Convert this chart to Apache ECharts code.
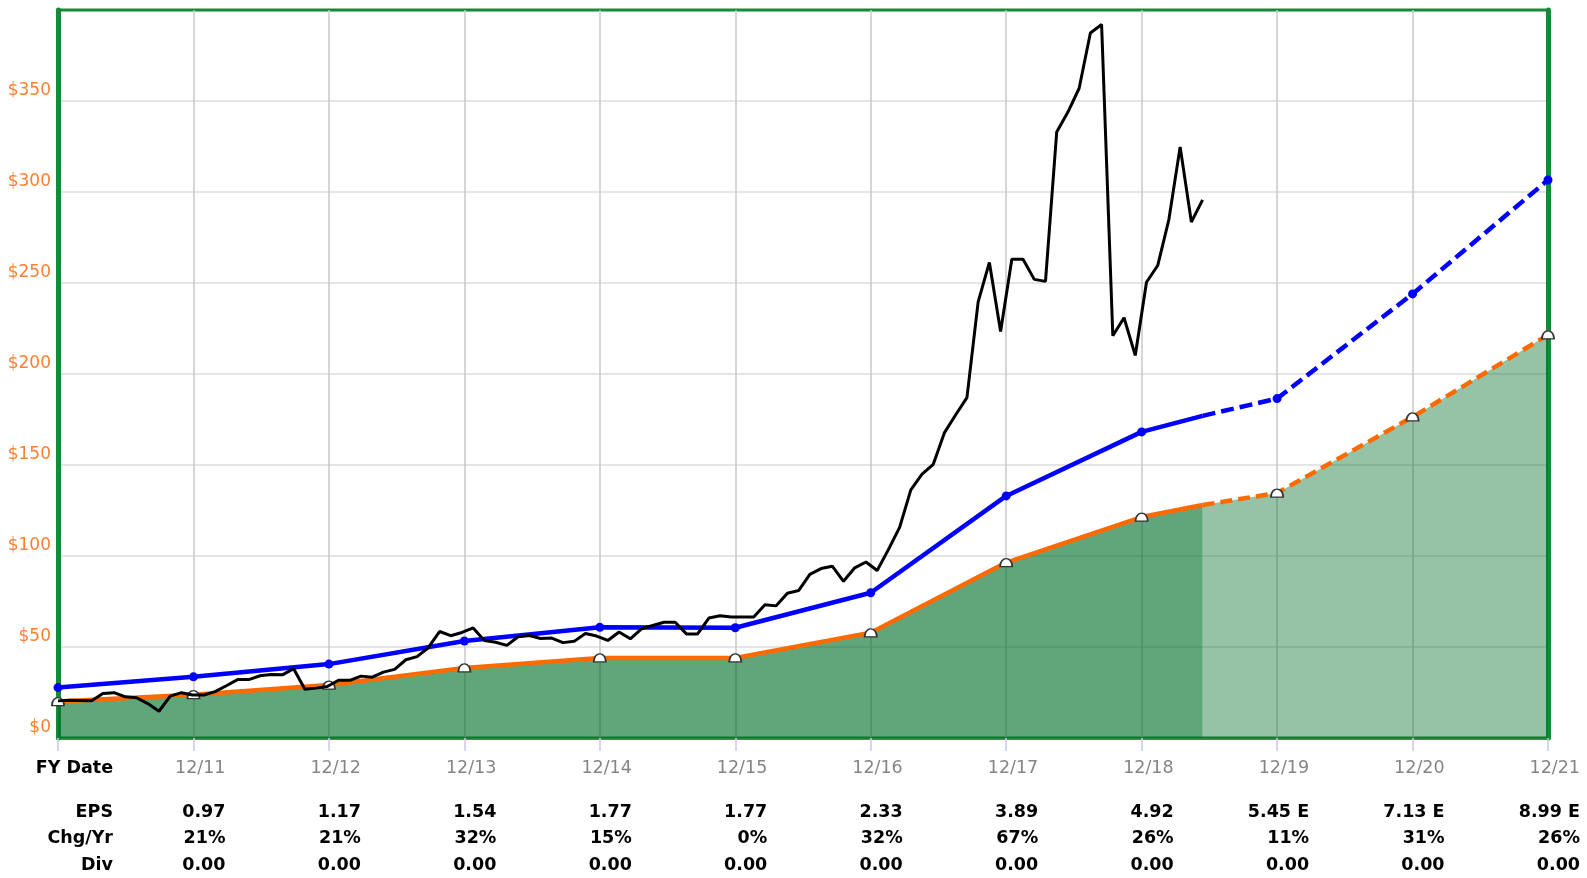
<!DOCTYPE html>
<html><head><meta charset="utf-8">
<script src="https://cdn.jsdelivr.net/npm/echarts@6/dist/echarts.min.js"></script>
<style>html,body{margin:0;padding:0;background:#fff}#c{width:1587px;height:878px}</style>
</head><body><div id="c"></div>
<script>
// ---- data ----
const fyLabels = ['12/10','12/11','12/12','12/13','12/14','12/15','12/16','12/17','12/18','12/19','12/20','12/21'];
const epsRow   = ['', '0.97','1.17','1.54','1.77','1.77','2.33','3.89','4.92','5.45 E','7.13 E','8.99 E'];
const chgRow   = ['', '21%','21%','32%','15%','0%','32%','67%','26%','11%','31%','26%'];
const divRow   = ['', '0.00','0.00','0.00','0.00','0.00','0.00','0.00','0.00','0.00','0.00','0.00'];
const rowTitles = ['FY Date','EPS','Chg/Yr','Div'];
const yTickValues = [0,50,100,150,200,250,300,350];

// orange earnings-value line, one value per FY (12/10 .. 12/21)
const earningsLine = [20.0, 23.8, 29.1, 38.5, 44.0, 44.0, 57.8, 96.4, 121.4, 134.6, 176.4, 221.5];
// blue normal-value line
const normalLine   = [27.7, 33.6, 40.6, 53.3, 60.8, 60.6, 79.8, 133.0, 168.2, 186.5, 244.0, 306.6];
const lastActualFY = 8;          // index of 12/18, last reported year
const asOfYear = 8.45;           // price date (years after 12/10)
const earningsAsOf = 128;
const normalAsOf = 177;
// monthly price from 12/10 to as-of date
const price = [
 20.4, 20.8, 20.6, 20.4, 24.5, 24.9, 22.6, 22.1, 18.9, 14.7,
 23.0, 24.9, 23.6, 23.6, 25.5, 28.7, 32.1, 32.1, 34.2, 34.9,
 34.7, 38.1, 26.8, 27.4, 28.3, 31.7, 31.7, 34.0, 33.4, 36.2,
 37.7, 43.0, 44.7, 49.6, 58.5, 56.2, 58.0, 60.5, 53.5, 52.6,
 50.9, 55.6, 56.3, 54.7, 54.9, 52.4, 53.1, 57.4, 56.0, 53.6,
 58.2, 54.5, 60.0, 61.8, 63.6, 63.6, 57.2, 57.2, 65.9, 67.2,
 66.5, 66.5, 66.5, 73.2, 72.6, 79.5, 81.0, 89.9, 93.1, 94.4,
 86.1, 93.5, 96.7, 92.0, 103.5, 115.7, 136.3, 145.0, 150.4, 167.8,
 177.6, 187.0, 239.6, 261.3, 223.3, 263.0, 263.0, 252.0, 250.9, 333.0,
 343.9, 357.0, 387.4, 392.0, 221.0, 230.9, 210.2, 250.4, 259.6, 285.0,
 324.8, 283.5, 295.7
];

// ---- build ----
const FONT = 'DejaVu Sans';
const GREEN = '#178a37';
const nYears = fyLabels.length - 1;

function actualPart(arr, asOfVal) {
  const d = [];
  for (let i = 0; i <= lastActualFY; i++) d.push([i, arr[i]]);
  d.push({value: [asOfYear, asOfVal], symbol: 'none'});
  return d;
}
function estPart(arr, asOfVal) {
  const d = [{value: [asOfYear, asOfVal], symbol: 'none'}];
  for (let i = lastActualFY + 1; i <= nYears; i++) d.push([i, arr[i]]);
  return d;
}
const priceData = price.map((v, i) => [asOfYear * i / (price.length - 1), v]);

function rowAxis(values, title, margin, isMain) {
  return {
    type: 'value', position: 'bottom', min: 0, max: nYears, interval: 1,
    gridIndex: 0, offset: 0,
    axisLine: isMain ? {show: true, onZero: false, lineStyle: {color: GREEN, width: 2.5}} : {show: false},
    axisTick: isMain ? {show: true, length: 13, lineStyle: {color: '#c6cce9', width: 1.5}} : {show: false},
    splitLine: isMain ? {show: true, showMinLine: false, showMaxLine: false,
                         lineStyle: {color: '#c9c9c9', width: 1.5}} : {show: false},
    axisLabel: {
      show: true, margin: margin, showMinLabel: true, showMaxLabel: true,
      fontFamily: FONT, fontSize: 18,
      formatter: v => {
        const i = Math.round(v);
        if (i === 0) return '{t|' + title + '}';
        return '{v|' + values[i] + '}';
      },
      rich: {
        t: {width: 110, align: 'right', fontFamily: FONT, fontSize: 17.5, fontWeight: 'bold', color: '#000'},
        v: isMain
          ? {width: 64, align: 'right', fontFamily: FONT, fontSize: 17.5, color: '#858585'}
          : {width: 64, align: 'right', fontFamily: FONT, fontSize: 17.5, fontWeight: 'bold', color: '#000'}
      }
    }
  };
}

const domePath = 'path://M0,10 A10,10 0 0 1 20,10 L20,11 L0,11 Z';
const orangeCommon = {
  type: 'line', symbol: domePath, symbolSize: [12, 8], showSymbol: true,
  itemStyle: {color: '#ffffff', borderColor: '#333', borderWidth: 1.5},
  z: 3
};
const blueCommon = {
  type: 'line', symbol: 'circle', symbolSize: 9, showSymbol: true,
  itemStyle: {color: '#0000ff'}, z: 4
};

const option = {
  animation: false,
  backgroundColor: '#ffffff',
  grid: {left: 58, right: 39, top: 10, bottom: 140, show: true,
         borderColor: GREEN, borderWidth: 3, backgroundColor: 'transparent'},
  xAxis: [
    rowAxis(fyLabels, rowTitles[0], 21, true),
    rowAxis(epsRow, rowTitles[1], 65, false),
    rowAxis(chgRow, rowTitles[2], 91, false),
    rowAxis(divRow, rowTitles[3], 118, false)
  ],
  yAxis: [
    {type: 'value', min: 0, max: 400, interval: 50, position: 'left',
     axisLine: {show: true, onZero: false, lineStyle: {color: GREEN, width: 5}},
     axisTick: {show: false},
     splitLine: {show: true, showMinLine: false, showMaxLine: false, lineStyle: {color: '#e5e5e5', width: 2}},
     axisLabel: {margin: 7, fontFamily: FONT, fontSize: 17, color: '#ff7f32',
       verticalAlign: 'bottom', padding: [0, 0, 2, 0],
       formatter: v => yTickValues.indexOf(v) >= 0 ? '$' + v : ''}},
    {type: 'value', min: 0, max: 400, interval: 50, position: 'right',
     axisLine: {show: true, onZero: false, lineStyle: {color: GREEN, width: 5}},
     axisTick: {show: false}, splitLine: {show: false}, axisLabel: {show: false}}
  ],
  series: [
    Object.assign({}, orangeCommon, {
      name: 'earnings', data: actualPart(earningsLine, earningsAsOf),
      lineStyle: {color: '#ff6a00', width: 4.5},
      areaStyle: {color: 'rgba(0,110,40,0.62)', opacity: 1, origin: 'start'}
    }),
    Object.assign({}, orangeCommon, {
      name: 'earningsEst', data: estPart(earningsLine, earningsAsOf),
      lineStyle: {color: '#ff6a00', width: 4.5, type: [12, 6]},
      areaStyle: {color: 'rgba(0,110,40,0.41)', opacity: 1, origin: 'start'}
    }),
    Object.assign({}, blueCommon, {
      name: 'normal', data: actualPart(normalLine, normalAsOf),
      lineStyle: {color: '#0000ff', width: 4.5}
    }),
    Object.assign({}, blueCommon, {
      name: 'normalEst', data: estPart(normalLine, normalAsOf),
      lineStyle: {color: '#0000ff', width: 4.5, type: [13, 6]}
    }),
    {type: 'line', name: 'price', data: priceData, showSymbol: false, symbol: 'none',
     lineStyle: {color: '#000000', width: 3}, z: 5}
  ]
};

const chart = echarts.init(document.getElementById('c'), null, {renderer: 'canvas'});
chart.setOption(option);
</script>
</body></html>
